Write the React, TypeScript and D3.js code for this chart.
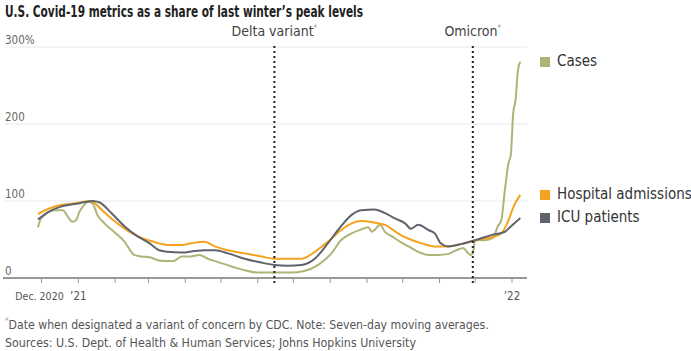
import React from "react";
import * as d3 from "d3";

// values (percent of last winter's peak)
const casesDates = ["2020-11-28","2020-12-01","2020-12-12","2020-12-19","2020-12-23","2020-12-27","2020-12-30","2021-01-02","2021-01-06","2021-01-09","2021-01-13","2021-01-17","2021-01-23","2021-01-31","2021-02-09","2021-02-17","2021-02-23","2021-03-02","2021-03-09","2021-03-15","2021-03-22","2021-03-29","2021-04-05","2021-04-13","2021-04-20","2021-04-28","2021-05-10","2021-05-21","2021-06-01","2021-06-12","2021-06-29","2021-07-10","2021-07-22","2021-08-02","2021-08-10","2021-08-19","2021-08-27","2021-09-02","2021-09-05","2021-09-07","2021-09-12","2021-09-16","2021-09-22","2021-09-29","2021-10-06","2021-10-14","2021-10-23","2021-10-31","2021-11-08","2021-11-15","2021-11-21","2021-11-24","2021-11-27","2021-11-29","2021-12-01","2021-12-09","2021-12-16","2021-12-20","2021-12-23","2021-12-26","2021-12-29","2021-12-31","2022-01-02","2022-01-04","2022-01-06","2022-01-08"];
const casesValues = [66,78,88,88,80,73,75,86,95,99,97,82,71,60,47,30,28,27,23,22,22,28,28,30,25,21,15,10,7,7,7,9,17,32,49,58,63,66,60,62,69,60,54,47,41,34,30,30,31,36,39,34,30,32,49,49,52,67,75,114,149,160,214,231,270,281];

const hospDates = ["2020-11-28","2020-12-07","2020-12-18","2020-12-29","2021-01-06","2021-01-11","2021-01-15","2021-01-21","2021-01-29","2021-02-09","2021-02-20","2021-03-01","2021-03-10","2021-03-17","2021-03-29","2021-04-06","2021-04-17","2021-04-26","2021-05-07","2021-05-21","2021-06-04","2021-06-15","2021-06-26","2021-07-08","2021-07-19","2021-07-30","2021-08-10","2021-08-19","2021-08-27","2021-09-07","2021-09-16","2021-09-29","2021-10-06","2021-10-17","2021-10-28","2021-11-08","2021-11-19","2021-12-01","2021-12-12","2021-12-23","2021-12-29","2022-01-03","2022-01-08"];
const hospValues = [83,90,95,97,99,100,97,88,77,64,54,49,45,43,43,45,47,41,36,32,28,25,25,25,34,47,62,71,74,72,69,56,51,45,41,41,44,49,52,58,75,95,108];

const icuDates = ["2020-11-28","2020-12-07","2020-12-18","2020-12-29","2021-01-08","2021-01-13","2021-01-19","2021-01-29","2021-02-09","2021-02-20","2021-03-02","2021-03-10","2021-03-17","2021-03-29","2021-04-09","2021-04-17","2021-04-26","2021-05-07","2021-05-21","2021-06-04","2021-06-15","2021-06-26","2021-07-08","2021-07-19","2021-07-30","2021-08-10","2021-08-19","2021-08-27","2021-09-07","2021-09-19","2021-09-25","2021-10-03","2021-10-08","2021-10-14","2021-10-23","2021-10-28","2021-11-02","2021-11-08","2021-11-19","2021-12-01","2021-12-15","2021-12-26","2021-12-31","2022-01-08"];
const icuValues = [76,86,93,96,99,100,98,84,67,54,45,36,34,33,35,36,36,32,25,20,17,16,17,25,45,67,82,88,89,82,77,71,64,69,62,58,45,41,44,49,56,60,67,78];

const yTicks = [0, 100, 200, 300];
const events = [
  { date: "2021-06-15", label: "Delta variant" },
  { date: "2021-11-29", label: "Omicron" },
];
const legendItems = [
  { name: "Cases", color: "#b0b377", y: 61 },
  { name: "Hospital admissions", color: "#f5a21f", y: 194 },
  { name: "ICU patients", color: "#5f636b", y: 217 },
];

const FONT = "'Liberation Sans Narrow', 'DejaVu Sans Condensed', 'Open Sans', sans-serif";

export default function App() {
  const parse = d3.utcParse("%Y-%m-%d");
  const x = d3
    .scaleUtc()
    .domain([new Date(Date.UTC(2020, 11, 1)), new Date(Date.UTC(2022, 0, 1))])
    .range([41.5, 512]);
  const y = d3.scaleLinear().domain([0, 300]).range([278, 47]);

  const line = d3
    .line<[Date, number]>()
    .x((d) => x(d[0]))
    .y((d) => y(d[1]))
    .curve(d3.curveMonotoneX);

  const series = [
    { dates: casesDates, values: casesValues, color: legendItems[0].color },
    { dates: hospDates, values: hospValues, color: legendItems[1].color },
    { dates: icuDates, values: icuValues, color: legendItems[2].color },
  ];

  const months = d3.utcMonth.range(
    new Date(Date.UTC(2020, 11, 1)),
    new Date(Date.UTC(2022, 0, 2))
  );
  const tickLabel = (d: Date) => {
    if (d.getUTCFullYear() === 2020) return "Dec. 2020";
    if (d.getUTCMonth() === 0) return "\u2019" + String(d.getUTCFullYear()).slice(2);
    return "";
  };

  return (
    <svg
      width={691}
      height={351}
      style={{ position: "absolute", left: 0, top: 0, background: "#fff" }}
      fontFamily={FONT}
    >
      <text x={5} y={17} fontSize={15} fontWeight={700} fill="#222" textLength={358} lengthAdjust="spacingAndGlyphs">
        U.S. Covid-19 metrics as a share of last winter’s peak levels
      </text>

      {/* grid + y labels */}
      {yTicks.map((t) => (
        <g key={t}>
          {t > 0 && <line x1={5} x2={527} y1={y(t)} y2={y(t)} stroke="#e8e8e8" strokeWidth={1} />}
          <text x={5} y={y(t) - 3} fontSize={11.5} fill="#666">
            {t === 300 ? "300%" : t}
          </text>
        </g>
      ))}

      {/* x axis */}
      <line x1={3} x2={527} y1={278} y2={278} stroke="#999" strokeWidth={2} />
      {months.map((m) => (
        <g key={m.toISOString()}>
          <line x1={x(m)} x2={x(m)} y1={278} y2={283} stroke="#999" strokeWidth={1} />
          {tickLabel(m) && (
            <text
              x={m.getUTCFullYear() === 2020 ? x(m) - 2 : x(m)}
              y={300}
              fontSize={m.getUTCFullYear() === 2020 ? 10.5 : 11.5}
              fill="#555"
              textAnchor="middle"
            >
              {tickLabel(m)}
            </text>
          )}
        </g>
      ))}

      {/* lines */}
      {series.map((s, i) => (
        <path
          key={i}
          d={line(s.dates.map((d, j) => [parse(d) as Date, s.values[j]])) || ""}
          fill="none"
          stroke={s.color}
          strokeWidth={2}
          strokeLinejoin="round"
        />
      ))}

      {/* variant markers */}
      {events.map((e) => {
        const ex = x(parse(e.date) as Date);
        return (
          <g key={e.label}>
            <line x1={ex} x2={ex} y1={46} y2={285} stroke="#222" strokeWidth={2} strokeDasharray="2,3" />
            <text x={ex} y={36} fontSize={14} fill="#444" textAnchor="middle">
              {e.label}
              <tspan fontSize={8} dy={-5} fill="#999">*</tspan>
            </text>
          </g>
        );
      })}

      {/* legend */}
      {legendItems.map((l) => (
        <g key={l.name}>
          <rect x={540} y={l.y - 4} width={10} height={10} fill={l.color} />
          <text x={557} y={l.y + 5} fontSize={15} fill="#333">
            {l.name}
          </text>
        </g>
      ))}

      {/* notes */}
      <text x={5} y={329} fontSize={13} fill="#555">
        <tspan fontSize={8} dy={-5} fill="#999">*</tspan>
        <tspan dy={5} textLength={480} lengthAdjust="spacingAndGlyphs">
          Date when designated a variant of concern by CDC. Note: Seven-day moving averages.
        </tspan>
      </text>
      <text x={5} y={347} fontSize={13} fill="#555" textLength={411} lengthAdjust="spacingAndGlyphs">
        Sources: U.S. Dept. of Health &amp; Human Services; Johns Hopkins University
      </text>
    </svg>
  );
}
